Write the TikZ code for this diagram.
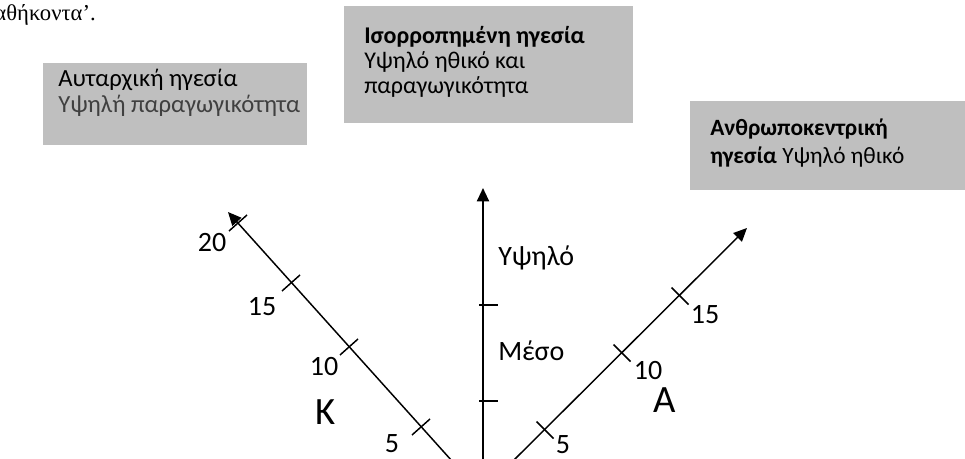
\documentclass[tikz,border=0pt]{standalone}
\usepackage{fontspec}
\setmainfont{Carlito}
\newfontfamily\grserif{Liberation Serif}
\usetikzlibrary{arrows.meta,calc}

\definecolor{boxgrey}{HTML}{BFBFBF}
\definecolor{lighttext}{HTML}{404040}

\tikzset{
  axis/.style={line width=1.1pt, -{Triangle[length=10pt,width=9pt]}},
  axtick/.style={line width=1.1pt},
  boxtext/.style={anchor=base west, inner sep=0pt, align=left},
  numlabel/.style={inner sep=0pt, font=\fontsize{21}{25}\selectfont},
  bigletter/.style={inner sep=0pt, font=\fontsize{29}{34}\selectfont},
}

\begin{document}
\begin{tikzpicture}[x=0.75pt, y=-0.75pt]
  \useasboundingbox (0,0) rectangle (965,459);

  % Line of text above
  \node[anchor=base east, inner sep=0pt, font=\grserif\fontsize{17}{20}\selectfont] (prevline) at (96,21) {καθήκοντα’.};

  % Grey boxes
  \fill[boxgrey] (43,63) rectangle (307,145);
  \fill[boxgrey] (344,6) rectangle (633,123);
  \fill[boxgrey] (690,101) rectangle (965,190);

  % Box texts (anchored at the last baseline)
  \node[boxtext, font=\fontsize{18.5}{19.5}\selectfont] (autocratic) at (58,113)
    {Αυταρχική ηγεσία\\\textcolor{lighttext}{Υψηλή παραγωγικότητα}};
  \node[boxtext, font=\fontsize{18}{18.75}\selectfont] (balanced) at (364,94)
    {\textbf{Ισορροπημένη ηγεσία}\\Υψηλό ηθικό και\\παραγωγικότητα};
  \node[boxtext, font=\fontsize{17.5}{21}\selectfont] (humancentred) at (710,164)
    {\textbf{Ανθρωποκεντρική}\\\textbf{ηγεσία} Υψηλό ηθικό};

  % Axes
  \coordinate (vbot) at (483,465);
  \coordinate (vtop) at (483,188);
  \coordinate (kbot) at (452,461);
  \coordinate (ktop) at (228,212);
  \coordinate (abot) at (513,461);
  \coordinate (atop) at (747,228);
  \draw[axis, line width=1.5pt] (vbot) -- (vtop);
  \draw[axis] (kbot) -- (ktop);
  \draw[axis] (abot) -- (atop);

  % Tick marks
  \draw[axtick] (479,305) -- (498,305);
  \draw[axtick] (479,401) -- (498,401);
  \draw[axtick] (412,435) -- (430,419);
  \draw[axtick] (340,355) -- (358,339);
  \draw[axtick] (282,291) -- (300,275);
  \draw[axtick] (229,231) -- (247,215);
  \draw[axtick] (536.5,421.5) -- (553.5,438.5);
  \draw[axtick] (613.5,344.5) -- (630.5,361.5);
  \draw[axtick] (671.5,287.5) -- (688.5,304.5);

  % Scale labels
  \node[numlabel] (k5) at (392,444) {5};
  \node[numlabel] (k10) at (324,367) {10};
  \node[numlabel] (k15) at (262,307) {15};
  \node[numlabel] (k20) at (212,243) {20};
  \node[numlabel] (a5) at (563,445) {5};
  \node[numlabel] (a10) at (648,371) {10};
  \node[numlabel] (a15) at (705,315) {15};
  \node[numlabel, anchor=base west] (high) at (498,266) {Υψηλό};
  \node[numlabel, anchor=base west] (medium) at (498,361) {Μέσο};

  % Axis names
  \node[bigletter] (kname) at (326,412) {Κ};
  \node[bigletter] (aname) at (665,400) {Α};
\end{tikzpicture}
\end{document}
